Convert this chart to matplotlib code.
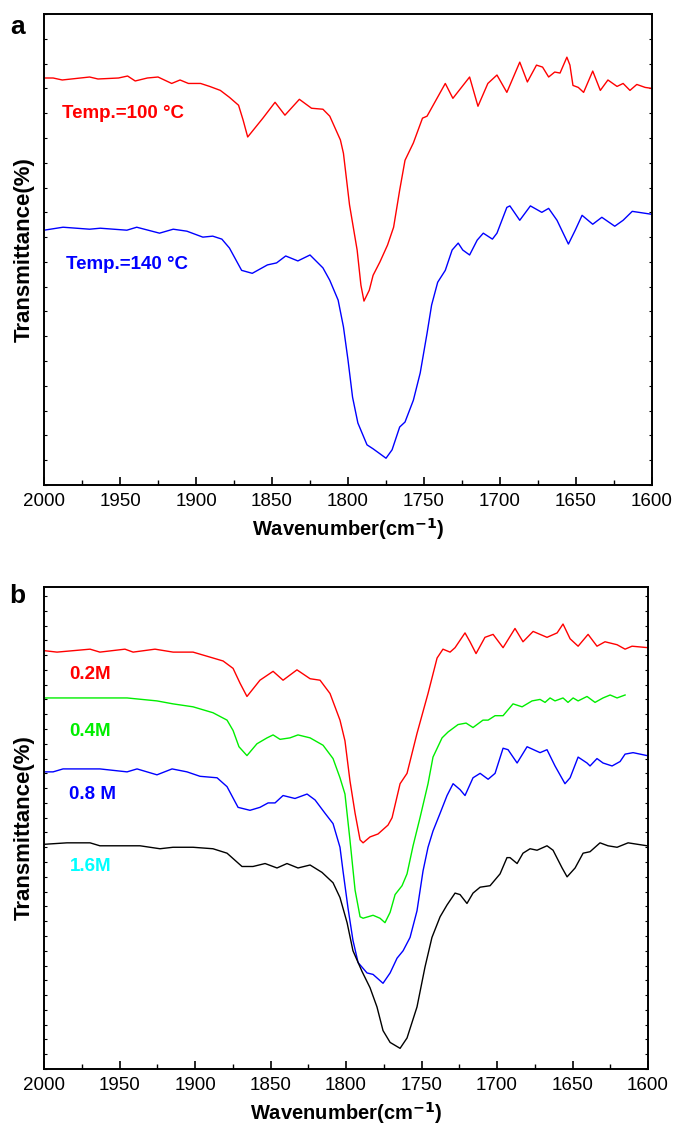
import numpy as np
import matplotlib
matplotlib.use('Agg')
import matplotlib.pyplot as plt
from matplotlib.ticker import MultipleLocator

plt.rcParams['font.family'] = ['Liberation Sans', 'DejaVu Sans']

# ---- panel a : temperature ----
wn_a_100 = [2000, 1994, 1988, 1970, 1964.5, 1951, 1945, 1940, 1932, 1925, 1916, 1910.5, 1905, 1897,
            1891, 1884, 1878, 1872, 1869, 1866, 1856, 1848, 1841.5, 1832, 1824, 1816.5, 1812, 1805,
            1803, 1799, 1794, 1791.5, 1789.5, 1786, 1783.5, 1779, 1774, 1770, 1766, 1762.5, 1757,
            1751, 1748, 1736, 1731, 1720, 1714.5, 1708, 1702, 1695.5, 1687, 1682, 1676, 1672, 1668,
            1664, 1660.5, 1656, 1654, 1652, 1648.5, 1645, 1639, 1634, 1629, 1623, 1619, 1614.5,
            1610, 1604.5, 1600]
tr_a_100 = [82.1, 82.1, 81.7, 82.3, 81.9, 82.1, 82.5, 81.5, 82.1, 82.3, 81.0, 81.7, 81.0, 81.0,
            80.4, 79.6, 78.2, 76.6, 73.6, 70.2, 74.0, 77.2, 74.6, 77.8, 76.0, 75.8, 74.4, 69.6,
            66.9, 56.5, 47.4, 40.3, 37.1, 39.3, 42.3, 45.0, 48.4, 52.0, 59.5, 65.5, 69.0,
            74.0, 74.4, 81.0, 78.0, 82.3, 76.4, 81.0, 82.7, 79.2, 85.3, 81.3, 84.7, 84.3, 82.3,
            83.3, 83.1, 86.3, 84.7, 80.6, 80.2, 79.2, 83.5, 79.6, 81.7, 80.4, 81.0, 79.6,
            80.8, 80.2, 80.0]

wn_a_140 = [2000, 1987.5, 1970, 1963, 1945.5, 1939, 1924, 1915, 1906, 1895.5, 1889, 1883, 1878,
            1870, 1863, 1853, 1847, 1841, 1833, 1825, 1816.5, 1812, 1806.5, 1803, 1800, 1797,
            1793.5, 1787.5, 1783.5, 1779, 1775, 1771, 1766, 1762.5, 1757, 1752.5, 1748, 1745,
            1741, 1736, 1731.5, 1727.5, 1724.5, 1720, 1715, 1711, 1705, 1702, 1695.5, 1693.5,
            1687, 1680, 1672.5, 1668, 1662.5, 1655, 1650.5, 1646, 1639, 1633, 1624.5, 1619,
            1613, 1600]
tr_a_140 = [51.4, 52.0, 51.6, 51.8, 51.4, 52.0, 50.8, 51.6, 51.2, 50.0, 50.2, 49.6, 47.8,
            43.3, 42.7, 44.4, 44.8, 46.2, 45.2, 46.4, 43.8, 41.3, 37.3, 31.9, 25.2, 17.7,
            12.5, 8.1, 7.3, 6.3, 5.4, 7.1, 11.7, 12.7, 17.1, 22.6, 30.6, 36.3,
            40.9, 43.3, 47.4, 48.8, 47.4, 46.4, 49.4, 50.8, 49.6, 50.8, 56.0, 56.3,
            53.4, 56.3, 55.0, 55.8, 53.4, 48.6, 51.4, 54.4, 52.6, 54.0, 52.2, 53.4,
            55.2, 54.6]

# ---- panel b : concentration ----
wn_b_02 = [2000, 1991.4, 1969.5, 1963, 1946.4, 1941, 1926.5, 1914.5, 1901.3, 1888, 1881.4, 1874.8,
           1870.2, 1865.6, 1857, 1848.3, 1841.7, 1832.5, 1823.8, 1817.2, 1810.6, 1804, 1800.7,
           1797.4, 1794, 1790.7, 1788.7, 1784.1, 1778.8, 1772.2, 1769.5, 1764.2, 1759.6, 1753,
           1745.7, 1739.7, 1735.8, 1731.1, 1727.8, 1721.2, 1717.9, 1713.9, 1708, 1702.6, 1696,
           1688.1, 1682.8, 1676.1, 1666.9, 1660.2, 1656.3, 1651.6, 1646.3, 1639.7, 1633.8,
           1628.5, 1620.5, 1615.2, 1610.6, 1600]
tr_b_02 = [28.3, 28.2, 28.4, 28.2, 28.4, 28.2, 28.4, 28.2, 28.2, 27.8, 27.6, 27.1,
           26.1, 25.2, 26.3, 26.9, 26.3, 27.0, 26.4, 26.3, 25.4, 23.6, 22.2,
           19.5, 17.3, 15.5, 15.3, 15.7, 15.9, 16.5, 17.0, 19.3, 20.0, 22.7,
           25.4, 27.8, 28.4, 28.2, 28.5, 29.5, 28.9, 28.1, 29.2, 29.4, 28.5,
           29.8, 28.9, 29.6, 29.2, 29.5, 30.1, 29.1, 28.6, 29.4, 28.6,
           28.9, 28.7, 28.4, 28.6, 28.5]

wn_b_04 = [2000, 1992.7, 1984.8, 1969.5, 1963, 1945, 1925.2, 1914.6, 1901.3, 1888.1, 1878.8,
           1874.8, 1870.9, 1865.6, 1859, 1852.3, 1848.3, 1843.7, 1837.1, 1831.8, 1823.8, 1815.2,
           1808.6, 1804, 1800.7, 1797.4, 1794, 1790.7, 1788.7, 1782.1, 1777.5, 1774.2, 1770.8,
           1767.5, 1762.9, 1759.6, 1755.6, 1751, 1745.7, 1742.4, 1736.4, 1732.4, 1725.8, 1720.5,
           1715.9, 1709.3, 1705.9, 1701.3, 1696, 1689.4, 1683.4, 1676.8, 1671.5, 1668.2, 1664.9,
           1661.6, 1656.3, 1653, 1649.6, 1646.3, 1640.4, 1635.1, 1629.8, 1625.1, 1620.5, 1615.2]
tr_b_04 = [25.1, 25.1, 25.1, 25.1, 25.1, 25.1, 24.9, 24.7, 24.5, 24.1, 23.6,
           22.9, 21.8, 21.2, 22.0, 22.4, 22.6, 22.3, 22.4, 22.6, 22.4, 21.9,
           21.0, 19.7, 18.6, 15.5, 12.1, 10.3, 10.2, 10.4, 10.2, 9.9, 10.6,
           11.8, 12.4, 13.2, 15.1, 17.0, 19.3, 21.1, 22.4, 22.8, 23.3, 23.4,
           23.1, 23.6, 23.6, 23.9, 23.9, 24.7, 24.5, 24.9, 25.0, 24.8, 25.1,
           24.9, 25.1, 24.8, 25.1, 24.9, 25.2, 24.8, 25.1, 25.3, 25.1, 25.3]

wn_b_08 = [2000, 1994, 1987.4, 1969.5, 1963, 1945, 1938.4, 1925.2, 1915.2, 1905.3, 1896.7,
           1885.4, 1878.8, 1871.5, 1863.6, 1857, 1851.6, 1847, 1841.7, 1833.8, 1825.8, 1820.5,
           1813.9, 1808.6, 1804, 1802, 1798.7, 1795.4, 1792, 1786.1, 1782.1, 1775.5, 1770.8,
           1766.2, 1762.2, 1757.6, 1753, 1749, 1745.7, 1742.4, 1737.7, 1733.1, 1729.1, 1724.5,
           1721.2, 1715.9, 1711.2, 1705.9, 1701.3, 1696, 1692.7, 1686.7, 1680.1, 1671.5, 1666.9,
           1661.6, 1655, 1651.6, 1646.3, 1640.4, 1638.4, 1633.8, 1629.8, 1623.8, 1618.5, 1615.2,
           1609.9, 1600.6]
tr_b_08 = [20.1, 20.1, 20.3, 20.3, 20.3, 20.1, 20.3, 19.9, 20.3, 20.1, 19.8,
           19.7, 19.1, 17.7, 17.5, 17.7, 18.0, 18.0, 18.5, 18.3, 18.6, 18.2,
           17.3, 16.6, 15.0, 13.4, 10.9, 8.7, 7.2, 6.5, 6.4, 5.8, 6.5,
           7.5, 8.0, 8.9, 10.7, 13.4, 15.0, 16.1, 17.3, 18.5, 19.3, 18.9,
           18.5, 19.7, 20.0, 19.6, 20.0, 21.7, 21.6, 20.7, 21.8, 21.4, 21.6,
           20.5, 19.3, 19.7, 21.1, 20.7, 20.5, 21.0, 20.7, 20.5, 20.8, 21.3,
           21.4, 21.2]

wn_b_16 = [2000, 1984.8, 1969.5, 1963, 1945, 1936.4, 1923.2, 1914.6, 1901.3, 1888.1, 1878.8,
           1868.9, 1861.6, 1853.6, 1845.7, 1839.1, 1831.8, 1823.8, 1815.9, 1808.6, 1804, 1799.3,
           1795.4, 1789.4, 1784.1, 1779.5, 1775.5, 1770.8, 1764.2, 1759.6, 1753, 1747.7, 1743.1,
           1737.7, 1733.1, 1727.8, 1724.5, 1719.9, 1715.9, 1711.2, 1704.6, 1698, 1693.4, 1691.4,
           1686.7, 1682.8, 1678.1, 1673.5, 1666.9, 1662.9, 1656.9, 1653.6, 1648.3, 1643, 1638.4,
           1631.8, 1626.5, 1620.5, 1613.2, 1600.6]
tr_b_16 = [15.2, 15.3, 15.3, 15.1, 15.1, 15.1, 14.9, 15.0, 15.0, 14.9, 14.6,
           13.7, 13.7, 13.9, 13.6, 13.9, 13.6, 13.8, 13.3, 12.6, 11.6, 9.9,
           8.0, 6.6, 5.5, 4.2, 2.6, 1.8, 1.4, 2.1, 4.2, 6.9, 8.9,
           10.3, 11.1, 11.9, 11.8, 11.2, 11.9, 12.3, 12.4, 13.2, 14.3, 14.3,
           13.9, 14.6, 14.9, 14.8, 15.1, 14.8, 13.6, 13.0, 13.6, 14.6, 14.7,
           15.3, 15.1, 15.0, 15.3, 15.1]

xticks = [2000, 1950, 1900, 1850, 1800, 1750, 1700, 1650, 1600]


def style_axes(ax, ystep):
    ax.set_xlim(2000, 1600)
    ax.set_xticks(xticks)
    ax.set_xticklabels([str(t) for t in xticks])
    ax.xaxis.set_minor_locator(MultipleLocator(25))
    ax.yaxis.set_major_locator(MultipleLocator(ystep))
    ax.set_yticklabels([])
    ax.tick_params(axis='x', which='major', direction='in', length=6, width=1.2,
                   top=False, labelsize=13.5, pad=6)
    ax.tick_params(axis='x', which='minor', direction='in', length=3.5, width=1.0, top=False)
    ax.tick_params(axis='y', which='major', direction='in', length=2.5, width=0.8,
                   left=True, right=True)
    for s in ax.spines.values():
        s.set_linewidth(1.4)
    ax.set_xlabel('Wavenumber(cm$^{\\mathbf{-1}}$)', fontsize=14.5, fontweight='bold', labelpad=4)
    ax.set_ylabel('Transmittance(%)', fontsize=16, fontweight='bold', labelpad=3)


fig = plt.figure(figsize=(6.73, 11.24), dpi=100)

ax1 = fig.add_axes([0.0654, 0.5685, 0.9034, 0.4190])
ax1.plot(wn_a_100, tr_a_100, color='#ff0000', lw=1.0)
ax1.plot(wn_a_140, tr_a_140, color='#0000ff', lw=1.0)
ax1.set_ylim(0, 95)
style_axes(ax1, 5)
ax1.text(1988, 75, 'Temp.=100 °C', color='#ff0000', fontsize=13.5, fontweight='bold', va='center')
ax1.text(1985.5, 44.5, 'Temp.=140 °C', color='#0000ff', fontsize=13.5, fontweight='bold', va='center')
fig.text(0.015, 0.987, 'a', fontsize=19, fontweight='bold', va='top')

ax2 = fig.add_axes([0.0654, 0.0489, 0.8975, 0.4288])
ax2.plot(wn_b_02, tr_b_02, color='#ff0000', lw=1.0)
ax2.plot(wn_b_04, tr_b_04, color='#00ee00', lw=1.0)
ax2.plot(wn_b_08, tr_b_08, color='#0000ff', lw=1.0)
ax2.plot(wn_b_16, tr_b_16, color='#000000', lw=1.0)
ax2.set_ylim(0, 32.6)
style_axes(ax2, 1)
ax2.text(1983, 26.7, '0.2M', color='#ff0000', fontsize=13.5, fontweight='bold', va='center')
ax2.text(1983.5, 22.8, '0.4M', color='#00ee00', fontsize=13.5, fontweight='bold', va='center')
ax2.text(1983.5, 18.6, '0.8 M', color='#0000ff', fontsize=13.5, fontweight='bold', va='center')
ax2.text(1983, 13.7, '1.6M', color='#00ffff', fontsize=13.5, fontweight='bold', va='center')
fig.text(0.013, 0.480, 'b', fontsize=19, fontweight='bold', va='top')

fig.savefig('out.png', dpi=100)
